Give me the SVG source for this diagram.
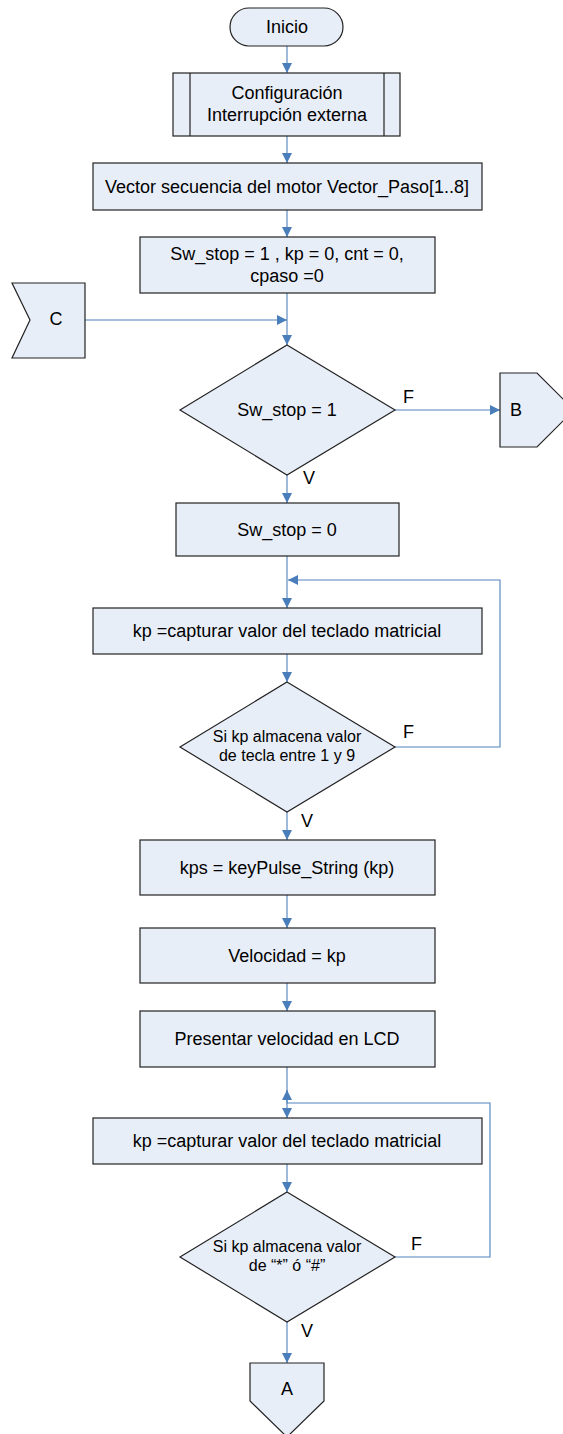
<svg xmlns="http://www.w3.org/2000/svg" width="563" height="1434" viewBox="0 0 563 1434">
<style>
.n{fill:#e8eef8;stroke:#222;stroke-width:1.2}
.t{font-family:"Liberation Sans",Arial,sans-serif;font-size:18px;fill:#000;text-anchor:middle}
.s{font-size:16px}
.l{font-family:"Liberation Sans",Arial,sans-serif;font-size:18px;fill:#000}
.c{fill:none;stroke:#4f81bd;stroke-width:1.1}
</style>
<defs>
<marker id="ah" viewBox="0 0 10 10" refX="10" refY="5" markerWidth="10" markerHeight="10" markerUnits="userSpaceOnUse" orient="auto">
<path d="M0,0 L10,5 L0,10 z" fill="#4a7ebb"/>
</marker>
</defs>
<rect width="563" height="1434" fill="#fff"/>
<g id="connectors">
<path class="c" d="M287,46 V73" marker-end="url(#ah)"/>
<path class="c" d="M287,136 V163" marker-end="url(#ah)"/>
<path class="c" d="M287,210 V237" marker-end="url(#ah)"/>
<path class="c" d="M287,293 V345" marker-end="url(#ah)"/>
<path class="c" d="M85,320 H287" marker-end="url(#ah)"/>
<path class="c" d="M395,410 H500" marker-end="url(#ah)"/>
<path class="c" d="M287,475 V503" marker-end="url(#ah)"/>
<path class="c" d="M287,556 V608" marker-end="url(#ah)"/>
<path class="c" d="M395,747 H500 V580 H288" marker-end="url(#ah)"/>
<path class="c" d="M287,654 V682" marker-end="url(#ah)"/>
<path class="c" d="M287,812 V840" marker-end="url(#ah)"/>
<path class="c" d="M287,895 V928" marker-end="url(#ah)"/>
<path class="c" d="M287,983 V1011" marker-end="url(#ah)"/>
<path class="c" d="M287,1067 V1118" marker-end="url(#ah)"/>
<path class="c" d="M395,1257 H490 V1103 H287 V1090" marker-end="url(#ah)"/>
<path class="c" d="M287,1164 V1192" marker-end="url(#ah)"/>
<path class="c" d="M287,1322 V1363" marker-end="url(#ah)"/>
<text class="l" x="403" y="403">F</text>
<text class="l" x="303" y="484">V</text>
<text class="l" x="403" y="738">F</text>
<text class="l" x="301" y="827">V</text>
<text class="l" x="411" y="1250">F</text>
<text class="l" x="301" y="1337">V</text>
</g>
<g id="inicio">
<rect class="n" x="230" y="8" width="113" height="38" rx="19" ry="19"/>
<text class="t" x="287" y="33">Inicio</text>
</g>
<g id="config">
<rect class="n" x="173" y="73" width="227" height="63"/>
<line x1="190" y1="73" x2="190" y2="136" stroke="#222" stroke-width="1.2"/>
<line x1="384" y1="73" x2="384" y2="136" stroke="#222" stroke-width="1.2"/>
<text class="t" x="287" y="99">Configuración</text>
<text class="t" x="287" y="121">Interrupción externa</text>
</g>
<g id="vector">
<rect class="n" x="93" y="163" width="389" height="47"/>
<text class="t" x="287" y="193">Vector secuencia del motor Vector_Paso[1..8]</text>
</g>
<g id="init">
<rect class="n" x="140" y="237" width="295" height="56"/>
<text class="t" x="287" y="260">Sw_stop = 1 , kp = 0, cnt = 0,</text>
<text class="t" x="287" y="282">cpaso =0</text>
</g>
<g id="conC">
<polygon class="n" points="12,283 85,283 85,358 12,358 30,320"/>
<text class="t" x="56" y="325">C</text>
</g>
<g id="dec1">
<polygon class="n" points="287,345 395,410 287,475 180,410"/>
<text class="t" x="287" y="416">Sw_stop = 1</text>
</g>
<g id="conB">
<polygon class="n" points="500,373 537,373 574,410 537,447 500,447"/>
<text class="t" x="516" y="416">B</text>
</g>
<g id="swstop0">
<rect class="n" x="176" y="503" width="223" height="53"/>
<text class="t" x="287" y="536">Sw_stop = 0</text>
</g>
<g id="kp1">
<rect class="n" x="93" y="608" width="389" height="46"/>
<text class="t" x="287" y="637">kp =capturar valor del teclado matricial</text>
</g>
<g id="dec2">
<polygon class="n" points="287,682 395,747 287,812 180,747"/>
<text class="t s" x="287" y="742">Si kp almacena valor</text>
<text class="t s" x="287" y="761">de tecla entre 1 y 9</text>
</g>
<g id="kps">
<rect class="n" x="140" y="840" width="295" height="55"/>
<text class="t" x="287" y="874">kps = keyPulse_String (kp)</text>
</g>
<g id="velocidad">
<rect class="n" x="140" y="928" width="295" height="55"/>
<text class="t" x="287" y="962">Velocidad = kp</text>
</g>
<g id="presentar">
<rect class="n" x="140" y="1011" width="295" height="56"/>
<text class="t" x="287" y="1045">Presentar velocidad en LCD</text>
</g>
<g id="kp2">
<rect class="n" x="93" y="1118" width="389" height="46"/>
<text class="t" x="287" y="1147">kp =capturar valor del teclado matricial</text>
</g>
<g id="dec3">
<polygon class="n" points="287,1192 395,1257 287,1322 180,1257"/>
<text class="t s" x="287" y="1252">Si kp almacena valor</text>
<text class="t s" x="287" y="1271">de “*” ó “#”</text>
</g>
<g id="conA">
<polygon class="n" points="250,1363 324,1363 324,1401 287,1437 250,1401"/>
<text class="t" x="287" y="1395">A</text>
</g>
</svg>
